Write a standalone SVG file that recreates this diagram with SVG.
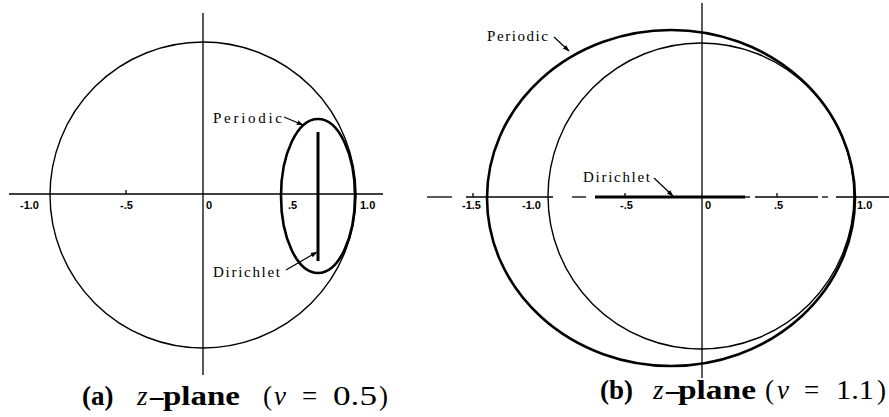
<svg xmlns="http://www.w3.org/2000/svg" width="889" height="417" viewBox="0 0 889 417">
<style>
.ax{stroke:#000;stroke-width:1.3;fill:none}
.thin{stroke:#000;stroke-width:1.4;fill:none}
.thick{stroke:#000;stroke-width:2.6;fill:none}
.seg{stroke:#000;stroke-width:3;fill:none}
.tk{font-family:"Liberation Sans",Arial,sans-serif;font-weight:bold;font-size:11px;fill:#000}
.lbl{font-family:"Liberation Serif","Times New Roman",serif;font-size:15px;fill:#000}
.arr{stroke:#000;stroke-width:1.2;fill:none;marker-end:url(#ah)}
.cap{font-family:"Liberation Serif","Times New Roman",serif;font-size:27px;fill:#000}
.b{font-weight:bold}
.i{font-style:italic}
</style>
<defs>
<marker id="ah" viewBox="0 0 10 10" refX="9" refY="5" markerWidth="7" markerHeight="7" orient="auto" markerUnits="userSpaceOnUse">
<path d="M0,1.5 L10,5 L0,8.5 z" fill="#000"/>
</marker>
</defs>
<rect width="889" height="417" fill="#fff"/>

<g id="panel-a-axes">
<line class="ax" x1="9" y1="194" x2="383" y2="194"/>
<line class="ax" x1="203" y1="13" x2="203" y2="375"/>
<line class="ax" x1="126" y1="190" x2="126" y2="194"/>
<text class="tk" x="20" y="209">-1.0</text>
<text class="tk" x="120" y="209">-.5</text>
<text class="tk" x="206" y="209">0</text>
<text class="tk" x="288" y="209">.5</text>
<text class="tk" x="360" y="209">1.0</text>
</g>
<g id="panel-a-unit-circle">
<circle class="thin" cx="203" cy="195" r="153"/>
</g>
<g id="panel-a-periodic">
<ellipse class="thick" cx="318" cy="196" rx="37" ry="77" stroke-width="2.2"/>
<text class="lbl" x="213" y="123" textLength="69" lengthAdjust="spacing">Periodic</text>
</g>
<g id="panel-a-dirichlet">
<line class="seg" x1="318" y1="132" x2="318" y2="261" stroke-width="2.6"/>
<text class="lbl" x="213" y="277" textLength="67" lengthAdjust="spacing">Dirichlet</text>
</g>
<text class="cap" y="405"><tspan class="b" x="82">(a)</tspan><tspan class="i" x="137">z</tspan><tspan class="b" x="150">–</tspan><tspan class="b" x="163" textLength="77" lengthAdjust="spacingAndGlyphs">plane</tspan><tspan x="263">(</tspan><tspan class="i" x="274">ν</tspan><tspan x="302">=</tspan><tspan x="333" textLength="44" lengthAdjust="spacingAndGlyphs">0.5</tspan><tspan x="379">)</tspan></text>

<g id="panel-b-axes">
<line class="ax" x1="427" y1="197" x2="452" y2="197"/>
<line class="ax" x1="466" y1="197" x2="553" y2="197"/>
<line class="ax" x1="572" y1="197" x2="586" y2="197"/>
<line class="ax" x1="745" y1="197" x2="750" y2="197"/>
<line class="ax" x1="755" y1="197" x2="818" y2="197"/>
<line class="ax" x1="822" y1="197" x2="828" y2="197"/>
<line class="ax" x1="836" y1="197" x2="889" y2="197"/>
<line class="ax" x1="702" y1="3" x2="702" y2="378"/>
<line class="ax" x1="473" y1="193" x2="473" y2="197"/>
<line class="ax" x1="625" y1="193" x2="625" y2="197"/>
<line class="ax" x1="777" y1="193" x2="777" y2="197"/>
<text class="tk" x="462" y="209">-1.5</text>
<text class="tk" x="522" y="209">-1.0</text>
<text class="tk" x="620" y="209">-.5</text>
<text class="tk" x="705" y="209">0</text>
<text class="tk" x="774" y="209">.5</text>
<text class="tk" x="857" y="209">1.0</text>
</g>
<g id="panel-b-unit-circle">
<circle class="thin" cx="701" cy="196" r="153"/>
</g>
<g id="panel-b-periodic">
<ellipse class="thick" cx="671" cy="198" rx="184" ry="168"/>
<text class="lbl" x="487" y="41" textLength="61" lengthAdjust="spacing">Periodic</text>
</g>
<g id="panel-b-dirichlet">
<line class="seg" x1="595" y1="197" x2="745" y2="197"/>
<text class="lbl" x="583" y="182" textLength="67" lengthAdjust="spacing">Dirichlet</text>
</g>
<text class="cap" y="399"><tspan class="b" x="600">(b)</tspan><tspan class="i" x="653">z</tspan><tspan class="b" x="666">–</tspan><tspan class="b" x="678" textLength="78" lengthAdjust="spacingAndGlyphs">plane</tspan><tspan x="765">(</tspan><tspan class="i" x="777">ν</tspan><tspan x="804">=</tspan><tspan x="836" textLength="38" lengthAdjust="spacingAndGlyphs">1.1</tspan><tspan x="877">)</tspan></text>

<g id="connectors">
<line class="arr" x1="284" y1="117" x2="303" y2="125"/>
<line class="arr" x1="286" y1="270" x2="317" y2="252"/>
<line class="arr" x1="554" y1="37" x2="569" y2="51"/>
<line class="arr" x1="654" y1="178" x2="673" y2="196"/>
</g>
</svg>
